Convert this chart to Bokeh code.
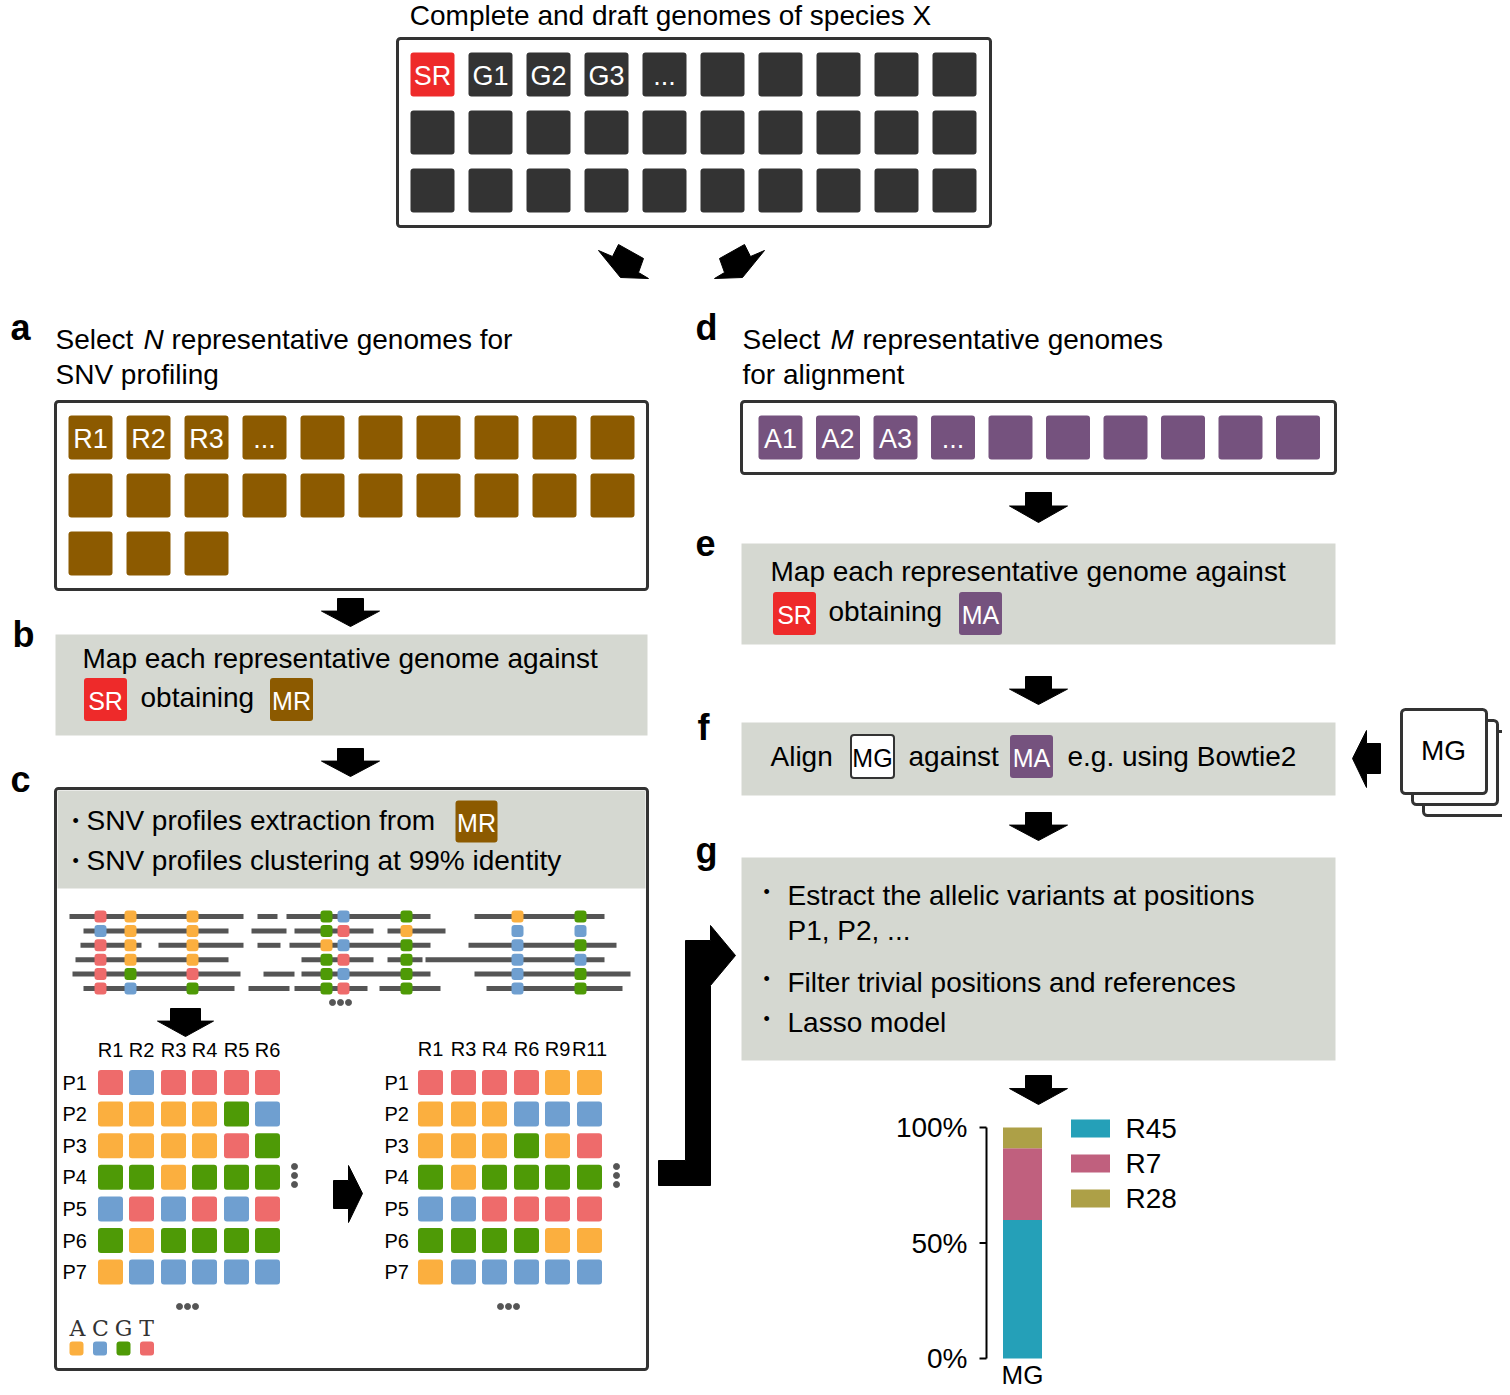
from bokeh.plotting import figure
from bokeh.models import Range1d
from bokeh.core.properties import value
from bokeh.embed import file_html
from bokeh.resources import INLINE

# ---- data ----
top_labels = ["SR", "G1", "G2", "G3", "..."]
rep_labels = ["R1", "R2", "R3", "..."]
aln_labels = ["A1", "A2", "A3", "..."]

left_cols = ["R1", "R2", "R3", "R4", "R5", "R6"]
right_cols = ["R1", "R3", "R4", "R6", "R9", "R11"]
rows = ["P1", "P2", "P3", "P4", "P5", "P6", "P7"]
left_matrix = ["TCTTTT", "AAAAGC", "AAAATG", "GGAGGG", "CTCTCT", "GAGGGG", "ACCCCC"]
right_matrix = ["TTTTAA", "AAACCC", "AAAGAT", "GAGGGG", "CCTTTT", "GGGGAA", "ACCCCC"]

# SNV read rows: segments and bases at variant positions
snv_segments = [
    [(69, 243), (257, 277), (286, 430), (474, 604)],
    [(83, 228), (251, 286), (294, 373), (387, 445)],
    [(80, 141), (158, 243), (257, 280), (289, 430), (468, 616)],
    [(75, 228), (301, 373), (387, 422), (425, 604)],
    [(72, 240), (263, 294), (301, 430), (474, 630)],
    [(83, 234), (248, 289), (294, 367), (379, 440), (486, 622)],
]
snv_positions = [100, 130, 192, 326, 343, 406, 517, 580]
snv_bases = ["TAAGCGAG", "CAAGTACC", "TAAACGCG", "TAAGTGCC", "TGTGCGCG", "TCGGTGCG"]

bar_names = ["R45", "R7", "R28"]
bar_values = [0.60, 0.31, 0.09]
bar_colors = ["#25A0B8", "#C0607E", "#ADA047"]

base_colors = {"A": "#FBAF3F", "C": "#6F9FD0", "G": "#4E9A06", "T": "#EE6B6B"}
RED, DARK, BROWN, PURPLE, GRAY = "#EE2A2A", "#333333", "#8C5A00", "#75527E", "#D5D8D1"
FONT = "Liberation Sans"

W, H = 1502, 1387
p = figure(width=W, height=H, x_range=Range1d(0, W), y_range=Range1d(H, 0),
           output_backend="svg", toolbar_location=None, min_border=0)
p.axis.visible = False
p.grid.visible = False
p.outline_line_color = None


def txt(x, y, s, size=28, color="black", align="left", style="normal", font=FONT, **kw):
    p.text(x=[x], y=[y], text=[s], text_font=value(font), text_font_size=f"{size}px",
           text_color=color, text_align=align, text_baseline="middle", text_font_style=style, **kw)


def box(x0, x1, y0, y1, fill="white", line="#333333", lw=3, r=3):
    p.rect(x=[(x0 + x1) / 2], y=[(y0 + y1) / 2], width=[x1 - x0], height=[y1 - y0],
           fill_color=fill, line_color=line, line_width=lw, border_radius=r)


def tile(cx, cy, color, label="", size=44, fs=27, tcol="white", line=None):
    p.rect(x=[cx], y=[cy], width=[size], height=[size], fill_color=color,
           line_color=line, line_width=2, border_radius=3)
    if label:
        txt(cx, cy + 1, label, size=fs, color=tcol, align="center")


def down_arrow(cx, y0, y1, w=58, sw=26):
    mid = y0 + (y1 - y0) * 0.45
    p.patch([cx - sw / 2, cx + sw / 2, cx + sw / 2, cx + w / 2, cx, cx - w / 2, cx - sw / 2],
            [y0, y0, mid, mid, y1, mid, mid], color="black")


# ---- top box ----
txt(670, 15, "Complete and draft genomes of species X", align="center")
box(397, 990, 38, 226)
for r in range(3):
    for c in range(10):
        idx = r * 10 + c
        lab = top_labels[idx] if idx < len(top_labels) else ""
        tile(432 + 58 * c, 74 + 58 * r, RED if idx == 0 else DARK, lab)

lx = [598, 612, 618, 643, 638, 648, 620]
ly = [250, 256, 244, 258, 272, 278, 277]
p.patch(lx, ly, color="black")
p.patch([1362 - x for x in lx], ly, color="black")

# ---- a ----
txt(10, 327, "a", size=36, style="bold")
txt(55, 339, "Select")
txt(143, 339, "N", style="italic")
txt(171, 339, "representative genomes for")
txt(55, 374, "SNV profiling")
box(55, 647, 401, 589)
for i in range(23):
    r, c = divmod(i, 10)
    tile(90 + 58 * c, 437 + 58 * r, BROWN, rep_labels[i] if i < len(rep_labels) else "")
down_arrow(350, 598, 626)

# ---- b ----
txt(12, 634, "b", size=36, style="bold")
box(55, 647, 634, 735, fill=GRAY, line=None, lw=0, r=0)
txt(82, 658, "Map each representative genome against")
tile(105, 699, RED, "SR", size=43, fs=25)
txt(140, 697, "obtaining")
tile(291, 699, BROWN, "MR", size=43, fs=25)
down_arrow(350, 748, 776)

# ---- c ----
txt(10, 779, "c", size=36, style="bold")
box(55, 647, 788, 1369)
box(57, 645, 790, 888, fill=GRAY, line=None, lw=0, r=0)
txt(72, 820, "\u2022", size=18)
txt(86, 820, "SNV profiles extraction from")
tile(476, 821, BROWN, "MR", size=42, fs=25)
txt(72, 860, "\u2022", size=18)
txt(86, 860, "SNV profiles clustering at 99% identity")

for i, segs in enumerate(snv_segments):
    y = 916 + 14.4 * i
    for a, b in segs:
        p.line([a, b], [y, y], line_color="#555555", line_width=5)
    for x, base in zip(snv_positions, snv_bases[i]):
        tile(x, y, base_colors[base], size=12)
p.scatter([332, 340, 348], [1002] * 3, size=6, color="#555555")
down_arrow(185, 1008, 1036, w=56, sw=30)


def matrix(xs, cols, mat, lab_x, head_y):
    for x, c in zip(xs, cols):
        txt(x, head_y, c, size=20, align="center")
    for j, rname in enumerate(rows):
        y = 1082 + 31.6 * j
        txt(lab_x, y, rname, size=20)
        for x, base in zip(xs, mat[j]):
            tile(x, y, base_colors[base], size=25)


matrix([110, 141, 173, 204, 236, 267], left_cols, left_matrix, 62, 1049)
matrix([430, 463, 494, 526, 557, 589], right_cols, right_matrix, 384, 1048)
p.scatter([294] * 3, [1166, 1175, 1184], size=6, color="#555555")
p.scatter([616] * 3, [1166, 1175, 1184], size=6, color="#555555")
p.scatter([179, 187, 195], [1306] * 3, size=6, color="#555555")
p.scatter([500, 508, 516], [1306] * 3, size=6, color="#555555")
p.patch([333, 348, 348, 362, 348, 348, 333], [1180, 1180, 1165, 1193, 1222, 1208, 1208], color="black")
for k, base in enumerate("ACGT"):
    txt(77 + 23 * k, 1328, base, size=22, font="DejaVu Serif", align="center", color="#333333")
    tile(76 + 23.5 * k, 1348, base_colors[base], size=14)

# big bent arrow c -> g
p.patch([658, 710, 710, 735, 710, 710, 685, 685, 658],
        [1185, 1185, 985, 955, 925, 940, 940, 1160, 1160], color="black")

# ---- d ----
txt(695, 327, "d", size=36, style="bold")
txt(742, 339, "Select")
txt(830, 339, "M", style="italic")
txt(862, 339, "representative genomes")
txt(742, 374, "for alignment")
box(741, 1335, 401, 473)
for i in range(10):
    tile(780 + 57.5 * i, 437, PURPLE, aln_labels[i] if i < len(aln_labels) else "")
down_arrow(1038, 492, 522)

# ---- e ----
txt(695, 542, "e", size=36, style="bold")
box(741, 1335, 543, 644, fill=GRAY, line=None, lw=0, r=0)
txt(770, 571, "Map each representative genome against")
tile(794, 613, RED, "SR", size=43, fs=25)
txt(828, 611, "obtaining")
tile(980, 613, PURPLE, "MA", size=43, fs=25)
down_arrow(1038, 676, 704)

# ---- f ----
txt(697, 727, "f", size=36, style="bold")
box(741, 1335, 722, 795, fill=GRAY, line=None, lw=0, r=0)
txt(770, 756, "Align")
tile(872, 756, "white", "MG", size=43, fs=25, tcol="black", line="#333333")
txt(908, 756, "against")
tile(1031, 756, PURPLE, "MA", size=43, fs=25)
txt(1067, 756, "e.g. using Bowtie2")
p.patch([1380, 1366, 1366, 1352, 1366, 1366, 1380], [743, 743, 730, 758, 787, 773, 773], color="black")
for off in (22, 11, 0):
    box(1401 + off, 1486 + off, 709 + off, 793 + off, lw=3, r=4)
txt(1443, 750, "MG", align="center")
down_arrow(1038, 812, 840)

# ---- g ----
txt(695, 850, "g", size=36, style="bold")
box(741, 1335, 857, 1060, fill=GRAY, line=None, lw=0, r=0)
for y, s in [(895, "Estract the allelic variants at positions"), (930, "P1, P2, ..."),
             (982, "Filter trivial positions and references"), (1022, "Lasso model")]:
    txt(787, y, s)
for y in (891, 978, 1018):
    txt(763, y, "\u2022", size=18)
down_arrow(1038, 1075, 1104)

# ---- stacked bar (own scale: 0 -> y 1358, 1 -> y 1127) ----
px = 1 / 231
p.extra_y_ranges = {"pct": Range1d(-(H - 1358) * px, 1358 * px)}
bottoms = [sum(bar_values[:i]) for i in range(len(bar_values))]
tops = [b + v for b, v in zip(bottoms, bar_values)]
p.vbar(x=[1022] * 3, width=39, bottom=bottoms, top=tops, fill_color=bar_colors,
       line_color=None, y_range_name="pct")
p.line([986, 986], [0, 1], line_color="black", line_width=2, y_range_name="pct")
for t, lab in [(0, "0%"), (0.5, "50%"), (1, "100%")]:
    p.line([979, 986], [t, t], line_color="black", line_width=2, y_range_name="pct")
    p.text(x=[967], y=[t], text=[lab], text_font=value(FONT), text_font_size="28px",
           text_align="right", text_baseline="middle", y_range_name="pct")
for i, (n, c) in enumerate(zip(bar_names, bar_colors)):
    y = 1128 + 35 * i
    p.rect(x=[1090], y=[y], width=[39], height=[18], fill_color=c, line_color=None)
    txt(1125, y, n)
txt(1022, 1374, "MG", align="center", size=26)

open("out.html", "w").write(file_html(p, INLINE))
